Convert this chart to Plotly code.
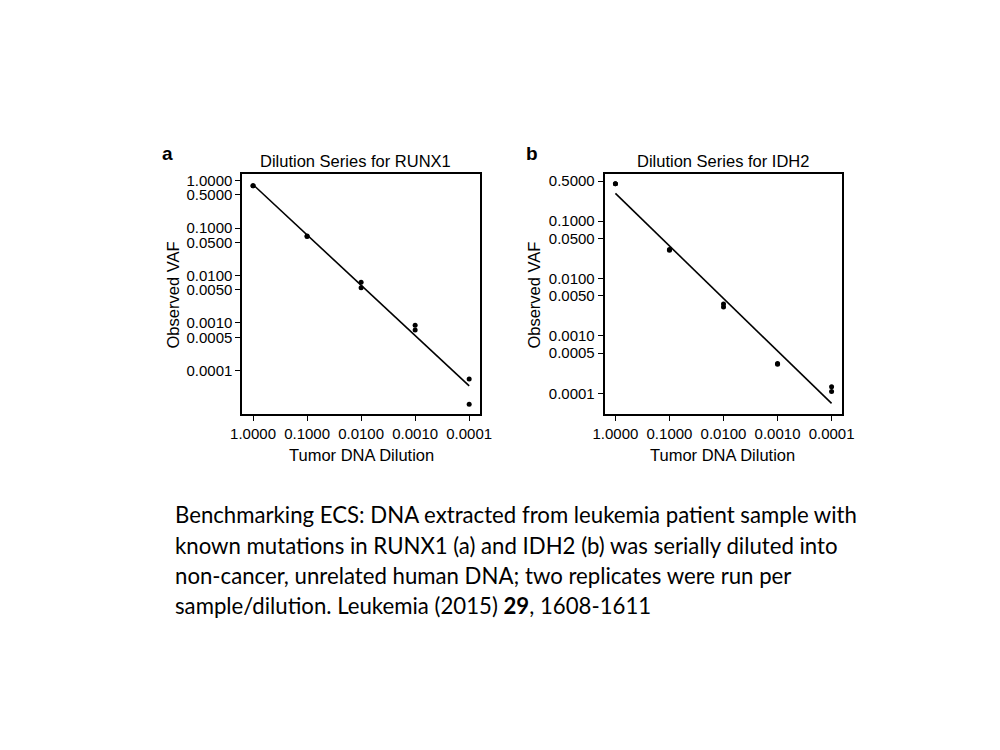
import numpy as np
import plotly.graph_objects as go

# ---- data ----
dilution = [1.0, 1.0, 0.1, 0.1, 0.01, 0.01, 0.001, 0.001, 0.0001, 0.0001]
runx1_vaf = [0.78, 0.78, 0.068, 0.066, 0.0072, 0.0055, 0.00090, 0.00071, 0.000066, 0.0000195]
idh2_vaf = [0.45, 0.45, 0.031, 0.032, 0.0036, 0.0032, 0.00033, 0.00032, 0.000130, 0.000107]

x_tickvals = [1.0, 0.1, 0.01, 0.001, 0.0001]
x_ticktext = ["1.0000", "0.1000", "0.0100", "0.0010", "0.0001"]
ya_tickvals = [1.0, 0.5, 0.1, 0.05, 0.01, 0.005, 0.001, 0.0005, 0.0001]
ya_ticktext = ["1.0000", "0.5000", "0.1000", "0.0500", "0.0100", "0.0050", "0.0010", "0.0005", "0.0001"]
yb_tickvals = [0.5, 0.1, 0.05, 0.01, 0.005, 0.001, 0.0005, 0.0001]
yb_ticktext = ["0.5000", "0.1000", "0.0500", "0.0100", "0.0050", "0.0010", "0.0005", "0.0001"]

titles = ["Dilution Series for RUNX1", "Dilution Series for IDH2"]
panel_labels = ["a", "b"]
caption_lines = [
    "Benchmarking ECS: DNA extracted from leukemia patient sample with",
    "known mutations in RUNX1 (a) and IDH2 (b) was serially diluted into",
    "non-cancer, unrelated human DNA; two replicates were run per",
    "sample/dilution. Leukemia (2015) <b>29</b>, 1608-1611",
]

W, H = 1000, 750
OFF = 8  # default page margin around the plot div
def px(x):
    return (x - OFF) / W
def py(y):
    return 1 - (y - OFF) / H

FONT = "Liberation Sans, Arial, sans-serif"

def fit_line(xs, ys):
    lx, ly = np.log10(xs), np.log10(ys)
    m, b = np.polyfit(lx, ly, 1)
    xe = np.array([max(xs), min(xs)])
    return xe, 10 ** (m * np.log10(xe) + b)

fig = go.Figure()
for i, vaf in enumerate([runx1_vaf, idh2_vaf]):
    xa = "x" if i == 0 else "x2"
    ya = "y" if i == 0 else "y2"
    fx, fy = fit_line(dilution, vaf)
    fig.add_trace(go.Scatter(x=fx, y=fy, mode="lines", line=dict(color="black", width=1.6),
                             xaxis=xa, yaxis=ya, showlegend=False, hoverinfo="skip"))
    fig.add_trace(go.Scatter(x=dilution, y=vaf, mode="markers",
                             marker=dict(color="black", size=5),
                             xaxis=xa, yaxis=ya, showlegend=False))

common = dict(type="log", showgrid=False, zeroline=False, showline=True, mirror=True,
              linecolor="black", linewidth=1.8, ticks="outside", ticklen=5, tickwidth=1,
              tickcolor="black", tickfont=dict(family=FONT, size=15, color="black"))

ytop, ybot = 172.3, 413.5
fig.update_layout(
    width=W, height=H, margin=dict(l=0, r=0, t=0, b=0),
    paper_bgcolor="white", plot_bgcolor="white",
    xaxis=dict(common, domain=[px(235.7), px(479.3)], range=[0.2, -4.2],
               tickvals=x_tickvals, ticktext=x_ticktext, anchor="y"),
    yaxis=dict(common, domain=[py(ybot), py(ytop)], range=[-4.926, 0.141],
               tickvals=ya_tickvals, ticktext=ya_ticktext, anchor="x"),
    xaxis2=dict(common, domain=[px(607), px(850.6)], range=[0.2, -4.2],
                tickvals=x_tickvals, ticktext=x_ticktext, anchor="y2"),
    yaxis2=dict(common, domain=[py(ybot), py(ytop)], range=[-4.368, -0.176],
                tickvals=yb_tickvals, ticktext=yb_ticktext, anchor="x2"),
)

ann = []
for title, cx in zip(titles, [352, 728]):
    ann.append(dict(text=title, x=px(cx), y=py(159), xref="paper", yref="paper",
                    showarrow=False, font=dict(family=FONT, size=16.5, color="black"),
                    xanchor="center", yanchor="middle"))
for lab, lx in zip(panel_labels, [159, 533]):
    ann.append(dict(text="<b>%s</b>" % lab, x=px(lx), y=py(152), xref="paper", yref="paper",
                    showarrow=False, font=dict(family=FONT, size=19, color="black"),
                    xanchor="center", yanchor="middle"))
for cx in [358, 728]:
    ann.append(dict(text="Tumor DNA Dilution", x=px(cx), y=py(454), xref="paper", yref="paper",
                    showarrow=False, font=dict(family=FONT, size=16.5, color="black"),
                    xanchor="center", yanchor="middle"))
for cx in [165, 535]:
    ann.append(dict(text="Observed VAF", x=px(cx), y=py(294), xref="paper", yref="paper",
                    showarrow=False, textangle=-90, font=dict(family=FONT, size=16.5, color="black"),
                    xanchor="center", yanchor="middle"))
for k, line in enumerate(caption_lines):
    ann.append(dict(text=line, x=px(165), y=py(514 + 30.5 * k), xref="paper", yref="paper",
                    showarrow=False, font=dict(family="Lato, Carlito, sans-serif", size=22.2, color="black"),
                    xanchor="left", yanchor="middle", align="left"))
fig.update_layout(annotations=ann)

fig.write_html("out.html")
